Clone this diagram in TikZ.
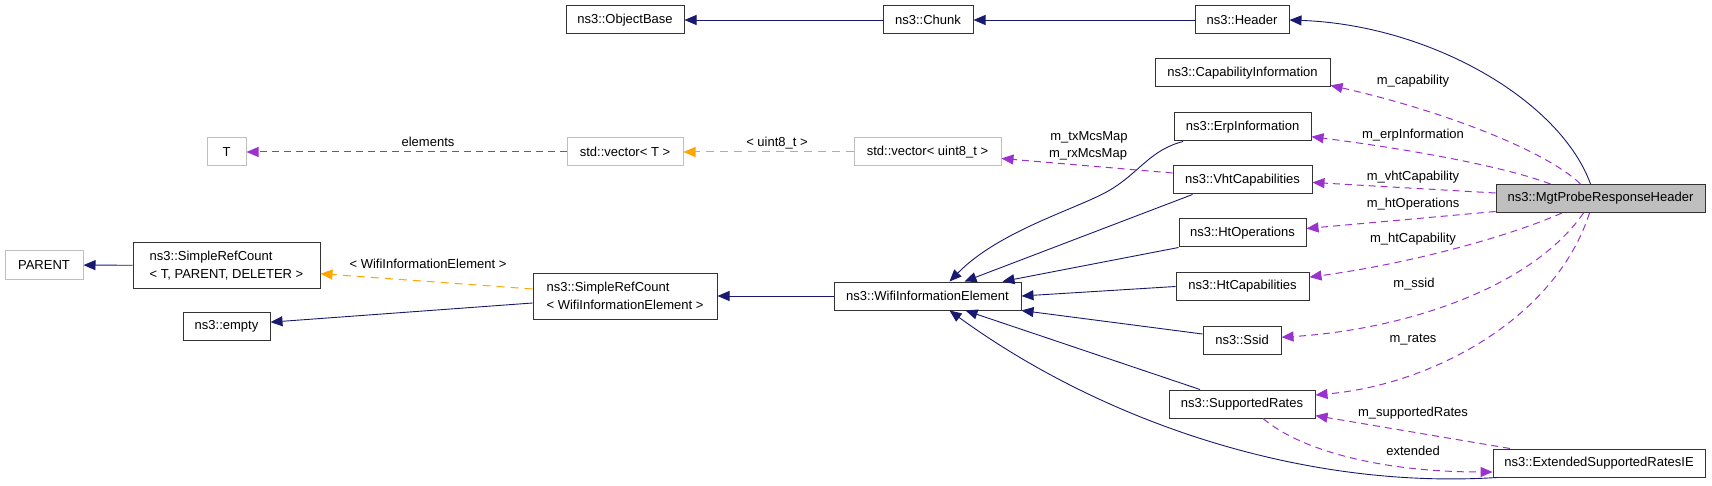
\documentclass[tikz,border=0pt]{standalone}
\usepackage{fontspec}
\setmainfont{Liberation Sans}
\usetikzlibrary{arrows.meta}

\definecolor{inhblue}{HTML}{191970}
\definecolor{usepurple}{HTML}{9A32CD}
\definecolor{tplorange}{HTML}{FFA500}
\definecolor{greyline}{HTML}{BFBFBF}

\begin{document}
\begin{tikzpicture}[
  x=1pt, y=-1pt,
  font=\fontsize{13}{17.5}\selectfont,
  box/.style={rectangle, draw=black!80, line width=1pt, minimum height=28, inner sep=2pt, align=left},
  ghost/.style={box, draw=greyline},
  inh/.style={-{Triangle[length=12pt,width=10pt]}, draw=inhblue, line width=0.9pt},
  member/.style={-{Triangle[length=12pt,width=10pt]}, draw=usepurple, line width=1pt, dash pattern=on 7pt off 5pt},
  tmpl/.style={-{Triangle[length=12pt,width=10pt]}, draw=tplorange, line width=1pt, dash pattern=on 8pt off 6pt},
  lbl/.style={inner sep=0pt},
]
  \useasboundingbox (0,0) rectangle (1712,486);

  % classes
  \node[box, minimum width=118] (objbase) at (625,20) {ns3::ObjectBase};
  \node[box, minimum width=90] (chunk) at (928,20) {ns3::Chunk};
  \node[box, minimum width=94] (header) at (1242,20) {ns3::Header};
  \node[box, minimum width=175] (capinfo) at (1242.5,73) {ns3::CapabilityInformation};
  \node[box, minimum width=137] (erpinfo) at (1242.5,127) {ns3::ErpInformation};
  \node[box, minimum width=139] (vhtcap) at (1242.5,180) {ns3::VhtCapabilities};
  \node[box, minimum width=127] (htop) at (1242.5,233) {ns3::HtOperations};
  \node[box, minimum width=133] (htcap) at (1242.5,286.5) {ns3::HtCapabilities};
  \node[box, minimum width=78] (ssid) at (1242,340) {ns3::Ssid};
  \node[box, minimum width=146] (suprates) at (1242,404) {ns3::SupportedRates};
  \node[box, minimum width=209, fill=greyline] (probe) at (1600.5,198.5) {ns3::MgtProbeResponseHeader};
  \node[box, minimum width=212] (extrates) at (1599,463) {ns3::ExtendedSupportedRatesIE};
  \node[ghost, minimum width=39] (tparam) at (226.5,152) {T};
  \node[ghost, minimum width=116] (vect) at (625,152) {std::vector< T >};
  \node[ghost, minimum width=147] (vecu8) at (927.5,152) {std::vector< uint8\_t >};
  \node[box, minimum width=187] (wie) at (927.5,296) {ns3::WifiInformationElement};
  \node[box, minimum width=184, minimum height=46] (refwie) at (625,296) {ns3::SimpleRefCount\\< WifiInformationElement >};
  \node[box, minimum width=187, minimum height=45] (reft) at (226.5,265.5) {ns3::SimpleRefCount\\< T, PARENT, DELETER >};
  \node[ghost, minimum width=78] (parent) at (44,265) {PARENT};
  \node[box, minimum width=87] (empty) at (226.5,326) {ns3::empty};

  % inheritance
  \draw[inh] (chunk) -- (objbase);
  \draw[inh] (header) -- (chunk);
  \draw[inh] ([xshift=-10]probe.north) .. controls (1560,100) and (1430,25) .. (header.east);
  \draw[inh] (wie) -- (refwie);
  \draw[inh] (reft) -- (parent);
  \draw[inh] ([yshift=-7]refwie.west) -- (empty.5);
  \draw[inh] ([xshift=-59.5]erpinfo.south) .. controls (1150,150) and (1140,172) .. (1110,190)
    .. controls (1080,208) and (1000,230) .. ([xshift=22]wie.north);
  \draw[inh] ([xshift=-50]vhtcap.south) -- ([xshift=37]wie.north);
  \draw[inh] (htop.south west) -- ([xshift=75]wie.north);
  \draw[inh] (htcap.west) -- (wie.east);
  \draw[inh] ([yshift=6]ssid.west) -- (wie.south east);
  \draw[inh] ([xshift=-42]suprates.north) -- ([xshift=38]wie.south);
  \draw[inh] ([xshift=-102]extrates.south) .. controls (1300,490) and (1100,420) .. ([xshift=22]wie.south);

  % members
  \draw[member] ([xshift=-20]probe.north) .. controls (1545,150) and (1440,110) .. (capinfo.-8);
  \draw[member] ([xshift=-50]probe.north) .. controls (1500,165) and (1400,148) .. (erpinfo.-8);
  \draw[member] ([yshift=5.5]probe.west) -- (vhtcap.-2);
  \draw[member] ([yshift=1.5]probe.south west) -- (htop.4);
  \draw[member] ([xshift=-38.5]probe.south) .. controls (1500,240) and (1400,265) .. (htcap.8);
  \draw[member] ([xshift=-17]probe.south) .. controls (1530,290) and (1400,330) .. (ssid.4);
  \draw[member] ([xshift=-11]probe.south) .. controls (1555,320) and (1430,385) .. (suprates.7);
  \draw[member] ([xshift=-89]extrates.north) -- (suprates.-9);
  \draw[member] ([xshift=21]suprates.south) .. controls (1300,450) and (1380,472) .. ([yshift=-9]extrates.west);
  \draw[member] ([yshift=7]vhtcap.west) -- (vecu8.-5);
  \draw[member] (vect) -- (tparam);

  % templates
  \draw[tmpl] (vecu8) -- (vect);
  \draw[tmpl] ([yshift=7]refwie.west) -- (reft.-5);

  % labels
  \node[lbl] (lelements) at (428,142) {elements};
  \node[lbl] (luint) at (777,143) {< uint8\_t >};
  \node[lbl] (lwie) at (428,264) {< WifiInformationElement >};
  \node[lbl] (ltx) at (1089,137) {m\_txMcsMap};
  \node[lbl] (lrx) at (1088,154) {m\_rxMcsMap};
  \node[lbl] (lcap) at (1413,81) {m\_capability};
  \node[lbl] (lerp) at (1413,135) {m\_erpInformation};
  \node[lbl] (lvht) at (1413,177) {m\_vhtCapability};
  \node[lbl] (lhtop) at (1413,204) {m\_htOperations};
  \node[lbl] (lhtcap) at (1413,239) {m\_htCapability};
  \node[lbl] (lssid) at (1414,284) {m\_ssid};
  \node[lbl] (lrates) at (1413,340) {m\_rates};
  \node[lbl] (lsup) at (1413,413) {m\_supportedRates};
  \node[lbl] (lext) at (1413,451) {extended};
\end{tikzpicture}
\end{document}
